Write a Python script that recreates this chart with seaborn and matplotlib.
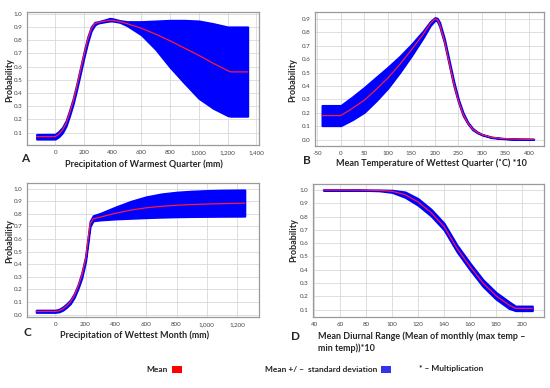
import matplotlib
matplotlib.use("Agg")
import matplotlib.pyplot as plt
import matplotlib.ticker as mticker
from matplotlib.patches import Rectangle
import seaborn as sns

# ---------------- data ----------------
a_x = [-130, 0, 25, 50, 75, 100, 125, 150, 175, 200, 225, 250, 275, 300, 350, 380, 400, 450, 500,
       600, 700, 800, 900, 1000, 1100, 1200, 1220, 1340]
a_mean = [0.07, 0.07, 0.09, 0.12, 0.17, 0.25, 0.34, 0.45, 0.57, 0.69, 0.80, 0.885, 0.925, 0.935, 0.945,
          0.95, 0.95, 0.94, 0.925, 0.89, 0.845, 0.795, 0.74, 0.685, 0.625, 0.57, 0.56, 0.56]
a_upper = [0.087, 0.088, 0.11, 0.14, 0.19, 0.27, 0.36, 0.47, 0.59, 0.71, 0.82, 0.90, 0.935, 0.94, 0.955,
           0.965, 0.962, 0.948, 0.94, 0.94, 0.945, 0.95, 0.95, 0.945, 0.925, 0.90, 0.90, 0.90]
a_lower = [0.052, 0.052, 0.07, 0.10, 0.15, 0.23, 0.32, 0.43, 0.55, 0.67, 0.78, 0.87, 0.915, 0.93, 0.94,
           0.945, 0.945, 0.935, 0.91, 0.84, 0.73, 0.595, 0.475, 0.36, 0.285, 0.23, 0.225, 0.225]

b_x = [-40, 0, 25, 50, 75, 100, 125, 150, 175, 190, 200, 205, 210, 220, 230, 240, 250, 260, 270,
       280, 290, 300, 320, 340, 360, 380, 410]
b_mean = [0.18, 0.18, 0.235, 0.295, 0.375, 0.46, 0.56, 0.67, 0.785, 0.865, 0.90, 0.895, 0.86, 0.74,
          0.58, 0.42, 0.29, 0.19, 0.125, 0.08, 0.055, 0.038, 0.018, 0.01, 0.006, 0.004, 0.003]
b_upper = [0.255, 0.255, 0.32, 0.39, 0.465, 0.54, 0.62, 0.71, 0.81, 0.88, 0.91, 0.905, 0.875, 0.755,
           0.595, 0.435, 0.30, 0.20, 0.13, 0.085, 0.058, 0.04, 0.02, 0.011, 0.007, 0.005, 0.004]
b_lower = [0.105, 0.105, 0.15, 0.205, 0.29, 0.385, 0.50, 0.625, 0.76, 0.85, 0.89, 0.885, 0.845, 0.725,
           0.565, 0.405, 0.28, 0.18, 0.12, 0.075, 0.052, 0.036, 0.016, 0.009, 0.005, 0.003, 0.002]

c_x = [-125, 0, 25, 50, 75, 100, 125, 150, 175, 200, 215, 230, 250, 300, 400, 500, 600, 700, 800,
       900, 1000, 1100, 1250]
c_mean = [0.025, 0.025, 0.03, 0.045, 0.07, 0.10, 0.15, 0.22, 0.31, 0.44, 0.58, 0.72, 0.76, 0.775,
          0.805, 0.83, 0.848, 0.86, 0.868, 0.874, 0.878, 0.881, 0.885]
c_upper = [0.035, 0.035, 0.042, 0.06, 0.085, 0.115, 0.165, 0.235, 0.33, 0.46, 0.60, 0.74, 0.785,
           0.805, 0.855, 0.90, 0.935, 0.958, 0.972, 0.98, 0.985, 0.988, 0.99]
c_lower = [0.018, 0.018, 0.022, 0.035, 0.058, 0.087, 0.135, 0.205, 0.29, 0.42, 0.56, 0.70, 0.745,
           0.752, 0.76, 0.765, 0.77, 0.774, 0.777, 0.779, 0.78, 0.781, 0.782]

d_x = [47, 70, 90, 100, 110, 120, 130, 140, 150, 160, 170, 180, 190, 195, 208]
d_mean = [1.0, 1.0, 0.997, 0.99, 0.965, 0.91, 0.83, 0.725, 0.56, 0.425, 0.30, 0.205, 0.135, 0.11, 0.11]
d_upper = [1.0, 1.0, 1.0, 0.998, 0.985, 0.935, 0.855, 0.75, 0.585, 0.45, 0.325, 0.23, 0.16, 0.127, 0.127]
d_lower = [1.0, 1.0, 0.994, 0.982, 0.945, 0.885, 0.805, 0.70, 0.535, 0.40, 0.275, 0.18, 0.11, 0.093, 0.093]

a_xticks = [0, 200, 400, 600, 800, 1000, 1200, 1400]
b_xticks = [-50, 0, 50, 100, 150, 200, 250, 300, 350, 400]
c_xticks = [0, 200, 400, 600, 800, 1000, 1200]
d_xticks = [40, 60, 80, 100, 120, 140, 160, 180, 200]
a_yticks = [0.1, 0.2, 0.3, 0.4, 0.5, 0.6, 0.7, 0.8, 0.9, 1.0]
b_yticks = [0.0, 0.1, 0.2, 0.3, 0.4, 0.5, 0.6, 0.7, 0.8, 0.9]
c_yticks = [0.0, 0.1, 0.2, 0.3, 0.4, 0.5, 0.6, 0.7, 0.8, 0.9, 1.0]
d_yticks = [0.1, 0.2, 0.3, 0.4, 0.5, 0.6, 0.7, 0.8, 0.9, 1.0]

xlabels = ["Precipitation of Warmest Quarter (mm)",
           "Mean Temperature of Wettest Quarter (\u02daC) *10",
           "Precipitation of Wettest Month (mm)",
           "Mean Diurnal Range (Mean of monthly (max temp \u2013\nmin temp))*10"]
letters = ["A", "B", "C", "D"]
legend_labels = ["Mean", "Mean +/ \u2013  standard deviation", "* \u2013 Multiplication"]

# ---------------- style ----------------
sns.set_style("whitegrid", {"grid.color": "#d9d9d9", "axes.edgecolor": "#9a9a9a"})
plt.rcParams["font.family"] = ["Lato", "DejaVu Sans"]

W, H = 550, 388
fig = plt.figure(figsize=(5.5, 3.88), dpi=100)

def px_axes(x0, y0, x1, y1):
    return fig.add_axes([x0 / W, 1 - y1 / H, (x1 - x0) / W, (y1 - y0) / H])

panels = [
    (px_axes(27, 12, 259, 145), a_x, a_mean, a_upper, a_lower, a_xticks, a_yticks, (-197, 1419), (0.007, 1.013)),
    (px_axes(315, 12, 544, 146), b_x, b_mean, b_upper, b_lower, b_xticks, b_yticks, (-55, 432), (-0.047, 0.952)),
    (px_axes(27, 183, 259, 317), c_x, c_mean, c_upper, c_lower, c_xticks, c_yticks, (-186, 1344), (-0.019, 1.045)),
    (px_axes(313, 184, 544, 317), d_x, d_mean, d_upper, d_lower, d_xticks, d_yticks, (39, 217), (0.045, 1.045)),
]

for ax, x, m, up, lo, xt, yt, xl, yl in panels:
    ax.fill_between(x, lo, up, color="#0000ff", lw=1.5, edgecolor="#0000ff", zorder=2)
    sns.lineplot(x=x, y=m, ax=ax, color="#ff1a3c", lw=0.9, zorder=3)
    ax.set_xlim(*xl)
    ax.set_ylim(*yl)
    ax.set_xticks(xt)
    ax.set_yticks(yt)
    ax.xaxis.set_major_formatter(mticker.FuncFormatter(lambda v, p: f"{int(v):,}"))
    ax.yaxis.set_major_formatter(mticker.FormatStrFormatter("%.1f"))
    ax.tick_params(labelsize=4.5, colors="#444444", length=1.5, pad=2)
    ax.grid(True, color="#d9d9d9", lw=0.6)
    for s in ax.spines.values():
        s.set_color("#9a9a9a")
        s.set_linewidth(0.9)
    ax.set_xlabel("")
    ax.set_ylabel("")

def ftext(x, y, s, **kw):
    fig.text(x / W, 1 - y / H, s, **kw)

# y labels
for (x, y) in [(10, 80), (293, 80), (10, 241), (294, 240)]:
    ftext(x, y, "Probability", rotation=90, ha="center", va="center", fontsize=6.5, fontweight="bold")

# x labels
ftext(144, 164, xlabels[0], ha="center", va="center", fontsize=6.5, fontweight="bold")
ftext(431, 163, xlabels[1], ha="center", va="center", fontsize=6.5, fontweight="bold")
ftext(135, 335, xlabels[2], ha="center", va="center", fontsize=6.5, fontweight="bold")
ftext(318, 331, xlabels[3], ha="left", va="top", fontsize=6.5, fontweight="bold", linespacing=1.4)

# panel letters
for (x, y), l in zip([(25, 158), (307, 160), (27, 333), (296, 336)], letters):
    ftext(x, y, l, ha="center", va="center", fontsize=8.5, fontweight="bold")

# legend
ftext(168, 369, legend_labels[0], ha="right", va="center", fontsize=6, fontweight="bold")
fig.patches.append(Rectangle((172 / W, 1 - 373 / H), 10 / W, 7 / H, transform=fig.transFigure,
                             facecolor="#ff0000", edgecolor="none"))
ftext(377, 369, legend_labels[1], ha="right", va="center", fontsize=6, fontweight="bold")
fig.patches.append(Rectangle((381 / W, 1 - 373 / H), 10 / W, 7 / H, transform=fig.transFigure,
                             facecolor="#3333ee", edgecolor="none"))
ftext(419, 369, legend_labels[2], ha="left", va="center", fontsize=6, fontweight="bold")

fig.savefig("out.png", dpi=100)
